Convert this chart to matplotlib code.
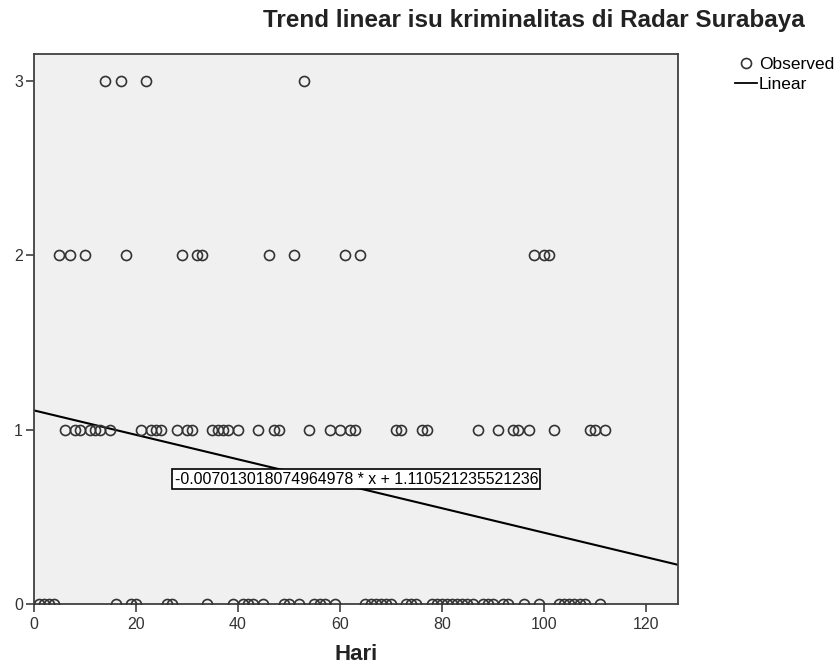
import numpy as np
import matplotlib
matplotlib.use("Agg")
import matplotlib.pyplot as plt
from matplotlib.lines import Line2D

plt.rcParams['font.family'] = ['Liberation Sans', 'DejaVu Sans']

# day numbers (Hari) per observed value
days_3 = [14, 17, 22, 53]
days_2 = [5, 7, 10, 18, 29, 32, 33, 46, 51, 61, 64, 98, 100, 101]
days_1 = [6, 8, 9, 11, 12, 13, 15, 21, 23, 24, 25, 28, 30, 31, 35, 36, 37, 38,
          40, 44, 47, 48, 54, 58, 60, 62, 63, 71, 72, 76, 77, 87, 91, 94, 95,
          97, 102, 109, 110, 112]
days_0 = [1, 2, 3, 4, 16, 19, 20, 26, 27, 34, 39, 41, 42, 43, 45, 49, 50, 52,
          55, 56, 57, 59, 65, 66, 67, 68, 69, 70, 73, 74, 75, 78, 79, 80, 81,
          82, 83, 84, 85, 86, 88, 89, 90, 92, 93, 96, 99, 103, 104, 105, 106,
          107, 108, 111]

x = np.array(days_0 + days_1 + days_2 + days_3, dtype=float)
y = np.array([0]*len(days_0) + [1]*len(days_1) + [2]*len(days_2) + [3]*len(days_3), dtype=float)

slope, intercept = np.polyfit(x, y, 1)
eq_label = '-0.007013018074964978 * x + 1.110521235521236'

xticks = [0, 20, 40, 60, 80, 100, 120]
yticks = [0, 1, 2, 3]

fig = plt.figure(figsize=(8.39, 6.72), dpi=100)
ax = fig.add_axes([34/839, 1-604/672, (678-34)/839, (604-54)/672])
ax.set_facecolor('#f0f0f0')

xmax = 126.3
ax.set_xlim(0, xmax)
ax.set_ylim(0, 3.155)

ax.plot(x, y, 'o', mfc='none', mec='#333333', ms=7.2, mew=1.2, zorder=3)
xl = np.array([0, xmax])
ax.plot(xl, intercept + slope*xl, color='black', lw=1.5, zorder=2)

ax.text(63.2, 0.717, eq_label, ha='center', va='center', fontsize=11.4,
        bbox=dict(boxstyle='square,pad=0.15', fc='white', ec='black', lw=1.2), zorder=4)

for s in ax.spines.values():
    s.set_color('#404040')
    s.set_linewidth(1.3)

ax.set_xticks(xticks)
ax.set_yticks(yticks)
ax.tick_params(direction='out', length=6, width=1.2, color='#404040',
               labelsize=11.5, labelcolor='#333333')
ax.tick_params(axis='y', pad=2)

fig.text(34/839 + (678-34)/839/2, 1-655/672, 'Hari', ha='center', va='center',
         fontsize=16, fontweight='bold', color='#222222')
fig.text(534/839, 1-21/672, 'Trend linear isu kriminalitas di Radar Surabaya',
         ha='center', va='center', fontsize=17.5, fontweight='bold', color='#222222')

handles = [Line2D([], [], ls='none', marker='o', mfc='none', mec='#333333', ms=7.2, mew=1.2),
           Line2D([], [], color='black', lw=1.3)]
fig.legend(handles, ['Observed', 'Linear'], loc='upper left',
           bbox_to_anchor=(735/839, 1-57/672), frameon=False, fontsize=12.5,
           handlelength=1.27, handletextpad=0.1, labelspacing=0.25, borderpad=0,
           borderaxespad=0)

fig.savefig('out.png', dpi=100)
